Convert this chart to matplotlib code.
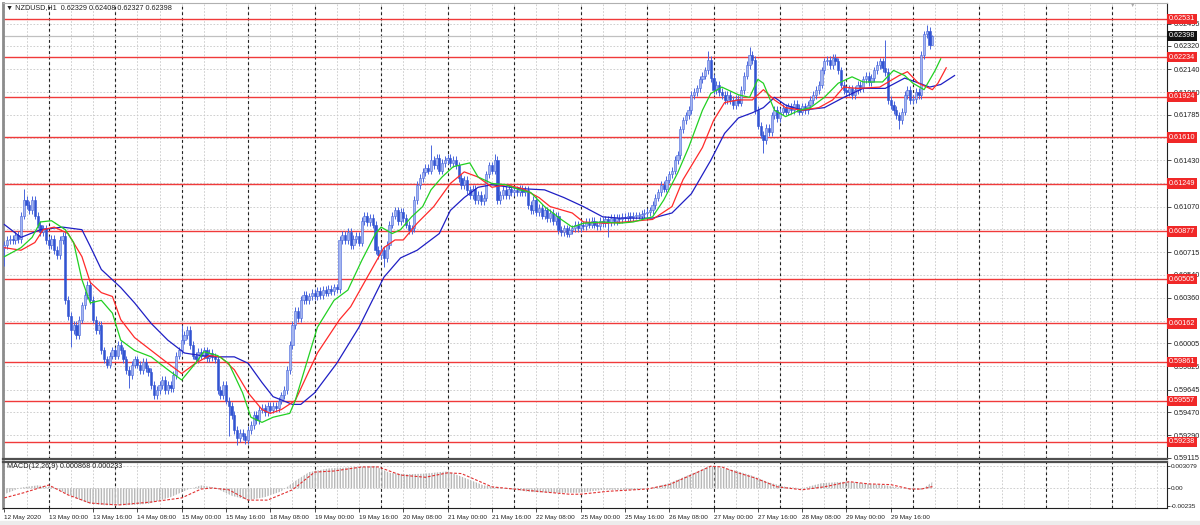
import numpy as np
import matplotlib.pyplot as plt
from matplotlib.transforms import blended_transform_factory

plt.rcParams['font.family'] = ['Liberation Sans', 'DejaVu Sans']

# ---- data (NZDUSD H1) ----
time_labels = ["12 May 2020", "13 May 00:00", "13 May 16:00", "14 May 08:00", "15 May 00:00",
               "15 May 16:00", "18 May 08:00", "19 May 00:00", "19 May 16:00", "20 May 08:00",
               "21 May 00:00", "21 May 16:00", "22 May 08:00", "25 May 00:00", "25 May 16:00",
               "26 May 08:00", "27 May 00:00", "27 May 16:00", "28 May 08:00", "29 May 00:00",
               "29 May 16:00"]
label_idx = [0, 16, 32, 48, 64, 80, 96, 112, 128, 144, 160, 176, 192, 208, 224, 240,
             256, 272, 288, 304, 320]

price_ticks = [0.62495, 0.62320, 0.62140, 0.61960, 0.61785, 0.61605, 0.61430, 0.61250,
               0.61070, 0.60895, 0.60715, 0.60540, 0.60360, 0.60180, 0.60005, 0.59825,
               0.59645, 0.59470, 0.59290, 0.59115]
levels = [0.62531, 0.62234, 0.61924, 0.61610, 0.61249, 0.60877, 0.60505, 0.60162,
          0.59861, 0.59557, 0.59238]
bid = 0.62398

# closes in pips (x 0.0001)
first_open = 6075
close_pips = [
    6077, 6081, 6082, 6081, 6085, 6082, 6100, 6112, 6108, 6104,
    6112, 6100, 6093, 6087, 6090, 6081, 6077, 6082, 6073, 6069,
    6081, 6084, 6034, 6022, 6011, 6015, 6007, 6019, 6030, 6038,
    6046, 6034, 6019, 6011, 6015, 5995, 5988, 5984, 5991, 5995,
    5991, 5999, 5995, 5988, 5980, 5976, 5984, 5988, 5984, 5980,
    5986, 5981, 5978, 5968, 5960, 5964, 5968, 5972, 5964, 5968,
    5966, 5976, 5991, 5995, 6003, 6007, 6011, 5999, 5991, 5988,
    5994, 5991, 5995, 5989, 5993, 5990, 5988, 5964, 5960, 5968,
    5956, 5952, 5945, 5933, 5927, 5931, 5928, 5925, 5933, 5937,
    5945, 5941, 5949, 5950, 5947, 5952, 5949, 5952, 5950, 5956,
    5960, 5964, 5980, 5999, 6015, 6026, 6020, 6034, 6038, 6034,
    6037, 6040, 6037, 6041, 6038, 6042, 6040, 6043, 6041, 6044,
    6043, 6081, 6085, 6081, 6087, 6077, 6082, 6084, 6079, 6096,
    6100, 6095, 6098, 6093, 6073, 6069, 6073, 6067, 6077, 6093,
    6100, 6104, 6096, 6103, 6098, 6093, 6089, 6090, 6112, 6124,
    6129, 6134, 6137, 6135, 6143, 6139, 6145, 6135, 6141, 6143,
    6145, 6141, 6143, 6139, 6129, 6124, 6128, 6120, 6116, 6121,
    6112, 6116, 6111, 6114, 6132, 6139, 6135, 6143, 6112, 6116,
    6120, 6116, 6121, 6118, 6120, 6118, 6121, 6118, 6120, 6108,
    6104, 6112, 6103, 6106, 6100, 6104, 6098, 6102, 6096, 6100,
    6089, 6087, 6090, 6086, 6089, 6090, 6093, 6090, 6093, 6092,
    6095, 6093, 6096, 6093, 6092, 6096, 6094, 6097, 6095, 6098,
    6096, 6098, 6097, 6099, 6098, 6100, 6099, 6100, 6100, 6100,
    6101, 6102, 6103, 6104, 6108, 6114, 6118, 6124, 6121, 6128,
    6132, 6135, 6143, 6147, 6167, 6174, 6178, 6182, 6194, 6196,
    6199, 6206, 6209, 6213, 6221, 6207, 6198, 6202, 6196, 6194,
    6190, 6194, 6190, 6186, 6191, 6188, 6198, 6209, 6217, 6225,
    6221, 6182, 6170, 6163, 6159, 6168, 6165, 6178, 6182, 6176,
    6181, 6184, 6181, 6185, 6182, 6187, 6184, 6181, 6185, 6182,
    6186, 6190, 6194, 6198, 6202, 6213, 6220, 6221, 6217, 6223,
    6220, 6213, 6202, 6198, 6196, 6199, 6194, 6198, 6202, 6199,
    6206, 6209, 6204, 6207, 6213, 6217, 6220, 6215, 6212, 6190,
    6186, 6182, 6178, 6174, 6181, 6194, 6198, 6190, 6191, 6196,
    6194, 6225, 6241, 6244, 6233, 6239.8]

# notable wick extremes
spike_highs = {7: 0.6121, 31: 0.6049, 64: 0.6015, 154: 0.6155, 177: 0.6148,
               254: 0.6228, 269: 0.6231, 318: 0.6237, 333: 0.6248, 335: 0.62408}
spike_lows = {0: 0.6061, 24: 0.5998, 45: 0.5966, 81: 0.5928, 84: 0.5921, 137: 0.6060,
              218: 0.6083, 274: 0.6149, 323: 0.6167, 335: 0.62327}

# Alligator lines (jaw blue, teeth red, lips green), pips
jaw_idx = [0, 6, 13, 21, 28, 31, 35, 39, 42, 47, 53, 59, 65, 71, 76, 83, 88, 93, 97, 104,
           107, 112, 120, 128, 137, 143, 149, 157, 161, 166, 171, 176, 186, 195, 202, 209,
           216, 222, 234, 241, 248, 255, 260, 265, 270, 274, 278, 282, 288, 296, 303, 310,
           318, 325, 329, 334, 338, 343]
jaw_pips = [6093, 6083, 6089, 6091, 6089, 6076, 6058, 6050, 6044, 6032, 6016, 6003, 5993,
            5991, 5990, 5990, 5985, 5970, 5959, 5953, 5953, 5962, 5985, 6013, 6052, 6067,
            6073, 6086, 6104, 6114, 6122, 6124, 6121, 6120, 6114, 6107, 6099, 6098, 6098,
            6102, 6117, 6143, 6164, 6176, 6180, 6184, 6192, 6186, 6182, 6184, 6192, 6199,
            6199, 6207, 6204, 6200, 6202, 6209]
teeth_idx = [0, 6, 11, 14, 18, 23, 28, 31, 35, 39, 42, 47, 53, 59, 64, 69, 74, 78, 83, 88,
             93, 96, 100, 105, 113, 121, 125, 131, 137, 141, 144, 149, 155, 161, 166, 171,
             176, 181, 187, 193, 197, 205, 209, 217, 224, 234, 241, 245, 252, 256, 260, 265,
             270, 274, 278, 282, 288, 294, 299, 303, 308, 316, 323, 326, 330, 335, 337, 340]
teeth_pips = [6075, 6073, 6079, 6089, 6091, 6086, 6068, 6048, 6040, 6037, 6019, 6005, 5995,
              5985, 5977, 5985, 5991, 5990, 5980, 5962, 5949, 5946, 5949, 5956, 5993, 6019,
              6029, 6052, 6075, 6081, 6081, 6094, 6107, 6125, 6134, 6130, 6122, 6124, 6121,
              6114, 6107, 6102, 6095, 6094, 6095, 6097, 6107, 6128, 6153, 6174, 6188, 6190,
              6190, 6198, 6190, 6184, 6182, 6184, 6190, 6200, 6199, 6200, 6209, 6212, 6203,
              6198, 6203, 6215]
lips_idx = [0, 6, 10, 13, 17, 22, 25, 28, 31, 35, 39, 42, 47, 53, 59, 64, 69, 72, 77, 81,
            86, 89, 93, 97, 103, 105, 113, 119, 124, 129, 134, 136, 140, 143, 147, 151, 154,
            158, 162, 168, 171, 176, 181, 186, 190, 195, 201, 205, 209, 216, 222, 227, 234,
            238, 243, 247, 252, 255, 259, 265, 269, 272, 274, 278, 282, 287, 291, 296, 301,
            306, 310, 317, 321, 325, 328, 332, 336, 338]
lips_pips = [6068, 6075, 6083, 6095, 6096, 6089, 6079, 6050, 6032, 6034, 6024, 6003, 5995,
             5990, 5980, 5972, 5985, 5994, 5991, 5985, 5962, 5943, 5939, 5943, 5946, 5956,
             6013, 6034, 6042, 6065, 6086, 6091, 6086, 6089, 6099, 6107, 6120, 6130, 6138,
             6141, 6130, 6125, 6124, 6120, 6118, 6107, 6097, 6091, 6094, 6095, 6094, 6095,
             6099, 6112, 6133, 6153, 6182, 6195, 6200, 6194, 6192, 6206, 6203, 6182, 6177,
             6182, 6184, 6192, 6203, 6208, 6204, 6204, 6213, 6209, 6203, 6198, 6213, 6222]

# MACD(12,26,9): main (histogram) and signal
macd_idx = [0, 6, 12, 18, 24, 30, 36, 44, 52, 60, 66, 71, 76, 82, 88, 94, 100, 105, 110, 117,
            128, 134, 139, 145, 152, 160, 167, 173, 180, 190, 200, 208, 216, 228, 233, 240,
            247, 254, 256, 264, 270, 276, 282, 288, 295, 304, 312, 318, 326, 331, 335]
macd_vals = [-0.0008, 0.0001, 0.0004, 0.0001, -0.0010, -0.0020, -0.0023, -0.0023, -0.0021,
             -0.0012, -0.0002, 0.0004, 0.0001, -0.0010, -0.0016, -0.0012, -0.0004, 0.0010,
             0.0022, 0.0027, 0.0029, 0.0030, 0.0021, 0.0019, 0.0020, 0.0023, 0.0013, 0.0004,
             0.0000, -0.0005, -0.0006, -0.0006, -0.0002, -0.0002, 0.0000, 0.0007, 0.0018,
             0.0029, 0.0030, 0.0024, 0.0017, 0.0008, 0.0002, 0.0000, 0.0007, 0.0009, 0.0006,
             0.0004, -0.0001, -0.0002, 0.000868]
signal_idx = [0, 7, 16, 23, 31, 41, 53, 64, 71, 75, 81, 88, 95, 104, 112, 119, 129, 135,
              143, 152, 160, 165, 176, 184, 195, 204, 208, 218, 232, 240, 248, 255, 259, 264,
              271, 279, 288, 296, 305, 312, 320, 327, 331, 335]
signal_vals = [-0.0013, -0.0006, 0.00045, -0.0009, -0.0020, -0.00226, -0.00186, -0.0013,
               -0.0001, 0.00004, -0.0002, -0.0016, -0.0016, -0.0002, 0.0022, 0.00235, 0.0029,
               0.0029, 0.0018, 0.0015, 0.0021, 0.0020, 0.0002, -0.0001, -0.0005, -0.0008,
               -0.0008, -0.0004, -0.0001, 0.0005, 0.0018, 0.0030, 0.0029, 0.0022, 0.0014,
               0.0002, -0.0002, 0.0002, 0.0009, 0.0006, 0.0005, -0.0001, -0.0001, 0.000233]
macd_ticks = [0.003079, 0.0, -0.00235]
macd_tick_labels = ['0.003079', '0.00', '-0.00235']

# ---- build candles ----
closes = np.array(close_pips) / 10000
opens = np.r_[first_open / 10000, closes[:-1]]
idx = np.arange(len(closes))
wick = 0.0003
highs = np.maximum(opens, closes) + wick
lows = np.minimum(opens, closes) - wick
for k, v in spike_highs.items():
    highs[k] = v
for k, v in spike_lows.items():
    lows[k] = v

# ---- figure ----
fig = plt.figure(figsize=(12, 5.25), dpi=100)
W, H = 1200, 525
ax = fig.add_axes([3 / W, 1 - 459 / H, 1164 / W, 456 / H])
axm = fig.add_axes([3 / W, 1 - 508 / H, 1164 / W, 46 / H], sharex=ax)

ax.set_xlim(-0.5, 419.7)
ax.set_ylim(0.591048, 0.626547)
axm.set_ylim(-0.00267, 0.00357)

grid_c = '#c8c8c8'
for a in (ax, axm):
    for i in range(0, 421, 8):
        a.axvline(i, color=grid_c, ls=(0, (2, 2)), lw=0.6, zorder=0)
    for i in range(16, 421, 24):
        a.axvline(i, color='#202020', ls=(0, (2.5, 2.5)), lw=0.8, zorder=0.5)
for p in price_ticks:
    ax.axhline(p, color=grid_c, ls=(0, (2, 2)), lw=0.6, zorder=0)
for p in macd_ticks[:2]:
    axm.axhline(p, color=grid_c, ls=(0, (2, 2)), lw=0.6, zorder=0)

# levels and bid line
for lv in levels:
    ax.axhline(lv, color='#f03a3a', lw=1.0, zorder=1)
ax.axhline(bid, color='#c0c0c0', lw=0.9, zorder=1)

# candles
wick_c = '#4a66dc'
ax.vlines(idx, lows, highs, color=wick_c, lw=0.7, zorder=3)
body = np.abs(closes - opens)
body = np.where(body < 0.00006, 0.00006, body)
bot = np.minimum(opens, closes)
bull = closes >= opens
ax.bar(idx[bull], body[bull], bottom=bot[bull], width=0.8, color='#a4b5f0',
       edgecolor=wick_c, lw=0.4, zorder=4)
ax.bar(idx[~bull], body[~bull], bottom=bot[~bull], width=0.8, color='#3254d2',
       edgecolor='#3254d2', lw=0.4, zorder=4)

# alligator
ax.plot(jaw_idx, np.array(jaw_pips) / 10000, color='#1f1fc4', lw=0.9, zorder=5)
ax.plot(teeth_idx, np.array(teeth_pips) / 10000, color='#ff2a2a', lw=0.9, zorder=5)
ax.plot(lips_idx, np.array(lips_pips) / 10000, color='#22d022', lw=0.9, zorder=5)

# MACD panel
axm.fill_between(macd_idx, 0, macd_vals, facecolor='none', edgecolor='#b8b8b8',
                 hatch='||||||', lw=0, zorder=2)
axm.plot(signal_idx, signal_vals, color='#e23030', lw=0.8, ls=(0, (2.5, 1.5)), zorder=3)

# axes styling
fs = 5.2
fs_small = 4.6
# price labels fully hidden behind a level box are not shown
shown = [p for p in price_ticks if min(abs(p - lv) for lv in levels) > 0.00022]
ax.yaxis.tick_right()
ax.set_yticks(price_ticks)
ax.set_yticklabels([f'{p:.5f}' if p in shown else '' for p in price_ticks],
                   fontsize=fs, color='#202020')
ax.tick_params(axis='y', length=3, width=0.6, pad=2, color='#303030')
ax.tick_params(axis='x', length=0, labelbottom=False)
axm.yaxis.tick_right()
axm.set_yticks(macd_ticks)
axm.set_yticklabels(macd_tick_labels, fontsize=fs_small, color='#202020')
axm.tick_params(axis='y', length=2, width=0.6, pad=1, color='#303030')
axm.set_xticks(label_idx)
axm.set_xticklabels(time_labels, fontsize=fs_small, color='#202020')
axm.tick_params(axis='x', length=3, width=0.6, pad=2, color='#303030')
for lab in axm.get_xticklabels():
    lab.set_ha('left')

for a in (ax, axm):
    a.spines['left'].set_color('#8c8c8c')
    a.spines['left'].set_linewidth(2)
    a.spines['right'].set_color('#202020')
    a.spines['right'].set_linewidth(0.8)
ax.spines['top'].set_color('#b0b0b0')
ax.spines['top'].set_linewidth(0.8)
ax.spines['bottom'].set_color('#505050')
ax.spines['bottom'].set_linewidth(1.6)
axm.spines['top'].set_color('#505050')
axm.spines['top'].set_linewidth(1.6)
axm.spines['bottom'].set_color('#202020')
axm.spines['bottom'].set_linewidth(0.8)

# right-side price boxes
tr = blended_transform_factory(ax.transAxes, ax.transData)
for lv in levels:
    ax.text(1.0015, lv, f'{lv:.5f}', transform=tr, fontsize=fs, color='white',
            ha='left', va='center', zorder=10, clip_on=False,
            bbox=dict(boxstyle='square,pad=0.25', fc='#f02828', ec='none'))
ax.text(1.0015, bid, f'{bid:.5f}', transform=tr, fontsize=fs, color='white',
        ha='left', va='center', zorder=10, clip_on=False,
        bbox=dict(boxstyle='square,pad=0.25', fc='#101010', ec='none'))

# headers
fig.text(6 / W, 1 - 8 / H, '\u25bc NZDUSD,H1  0.62329 0.62408 0.62327 0.62398',
         fontsize=fs, color='#202020', va='center', ha='left')
fig.text(7 / W, 1 - 467 / H, 'MACD(12,26,9) 0.000868 0.000233',
         fontsize=fs, color='#202020', va='center', ha='left')
fig.text(1133 / W, 1 - 5 / H, '\u25bc', fontsize=4, color='#a8a8a8', va='center', ha='center')

fig.patches.append(plt.Rectangle((0, 0), 1, 4 / H, transform=fig.transFigure,
                                 color='#ececec', zorder=0))

fig.savefig('out.png', dpi=100)
